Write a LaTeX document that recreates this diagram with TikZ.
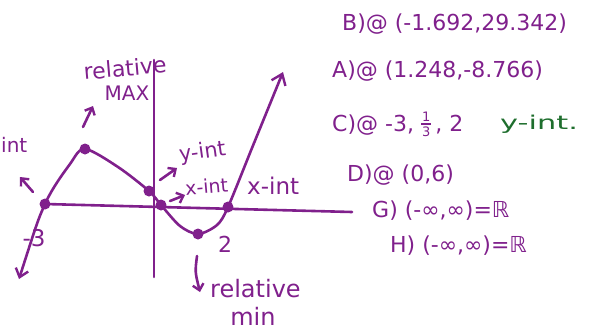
\documentclass[tikz,border=0pt]{standalone}
\usepackage{graphicx}
\usepackage{fontspec}
\setmainfont{DejaVu Sans}
\newfontfamily\hand{DejaVu Sans}
\usetikzlibrary{arrows.meta}
\definecolor{ink}{RGB}{128,32,140}
\definecolor{greenink}{RGB}{30,110,45}
\newcommand{\fs}[1]{\fontsize{#1}{#1}\selectfont}
\begin{document}
\begin{tikzpicture}[x=1pt,y=-1pt,
  pen/.style={draw=ink, line width=2.6pt, line cap=round, line join=round},
  lab/.style={text=ink, font=\hand\fs{21}, inner sep=0pt},
  ans/.style={text=ink, font=\hand\fs{22}, inner sep=0pt, anchor=west},
  fracd/.style={text=ink, font=\hand\fs{13}, inner sep=0pt},
  dot/.style={circle, fill=ink, inner sep=0pt, minimum size=11pt},
  tip/.style={-{Straight Barb[length=6pt,width=11pt,line width=2.4pt]}},
]
\useasboundingbox (0,0) rectangle (592,333);
% axes
\coordinate (xl) at (45,204);
\coordinate (xr) at (352,212);
\coordinate (yt) at (154,60);
\coordinate (yb) at (154,277);
\draw[pen] (xl) -- (xr);
\draw[pen] (yt) -- (yb);
% curve points
\coordinate (c0) at (19,279);
\coordinate (p1) at (45,204);
\coordinate (p2) at (85,149);
\coordinate (p3) at (149,191);
\coordinate (p4) at (161,205);
\coordinate (p5) at (198,234);
\coordinate (p6) at (228,207);
\coordinate (c9) at (283,72);
\draw[pen, {Straight Barb[length=8pt,width=13pt,line width=2.4pt]}-{Straight Barb[length=10pt,width=15pt,line width=2.4pt]}]
  plot[smooth, tension=0.5] coordinates {(c0) (p1) (70,164) (p2) (118,167) (p3) (p4) (180,226) (p5) (217,225) (p6) (252,148) (c9)};
\foreach \p in {p1,p2,p3,p4,p5,p6} \node[dot] at (\p) {};
% labels on graph
\node[lab, anchor=west, font=\hand\fs{20}] (int) at (1,145) {int};
\coordinate (a1s) at (33,192); \coordinate (a1e) at (20,177);
\draw[pen, tip] (a1s) -- (a1e);
\node[lab, font=\hand\fs{23}] (m3) at (34,238) {-3};
\node[lab, font=\hand\fs{22}, rotate=5] (relmax) at (125,68) {relative};
\node[lab, font=\hand\fs{20}] (max) at (127,93) {MAX};
\coordinate (a2s) at (83,127); \coordinate (a2e) at (93,106);
\draw[pen, tip] (a2s) -- (a2e);
\node[lab, anchor=west, rotate=8, font=\hand\fs{21}] (yint) at (179,156) {y-int};
\coordinate (a3s) at (160,180); \coordinate (a3e) at (177,168);
\draw[pen, tip] (a3s) -- (a3e);
\node[lab, anchor=west, rotate=5, font=\hand\fs{19}] (xint1) at (185,188) {x-int};
\coordinate (a4s) at (170,201); \coordinate (a4e) at (185,195);
\draw[pen, tip] (a4s) -- (a4e);
\node[lab, anchor=west, font=\hand\fs{23}] (xint2) at (247,186) {x-int};
\node[lab, font=\hand\fs{22}] (two) at (225,244) {2};
\coordinate (a5s) at (197,256); \coordinate (a5e) at (200,292);
\draw[pen, tip] (a5s) .. controls (195,272) .. (a5e);
\node[lab, anchor=west, font=\hand\fs{24}] (relmin) at (210,289) {relative};
\node[lab, font=\hand\fs{24}] (min) at (253,316) {min};
% answers
\node[ans] (b) at (342,24) {B)@ (-1.692,29.342)};
\node[ans] (a) at (332,71) {A)@ (1.248,-8.766)};
\node[ans] (c) at (332,125) {C)@ -3,};
\node[fracd, anchor=base] (cnum) at ([xshift=12pt,yshift=10pt]c.base east) {1};
\draw[ink, line width=1.4pt] ([xshift=7pt,yshift=7.5pt]c.base east) -- ([xshift=17pt,yshift=7.5pt]c.base east);
\node[fracd, anchor=north] (cden) at ([xshift=12pt,yshift=5pt]c.base east) {3};
\node[ans, anchor=base west] (c2) at ([xshift=21pt]c.base east) {, 2};
\node[ans, text=greenink, font=\hand\fs{19}] (g) at (500,124) {\scalebox{1.6}[1]{y-int.}};
\node[ans] (d) at (347,175) {D)@ (0,6)};
\node[ans] (gg) at (372,211) {G) (-∞,∞)=ℝ};
\node[ans] (h) at (390,246) {H) (-∞,∞)=ℝ};
\end{tikzpicture}
\end{document}
